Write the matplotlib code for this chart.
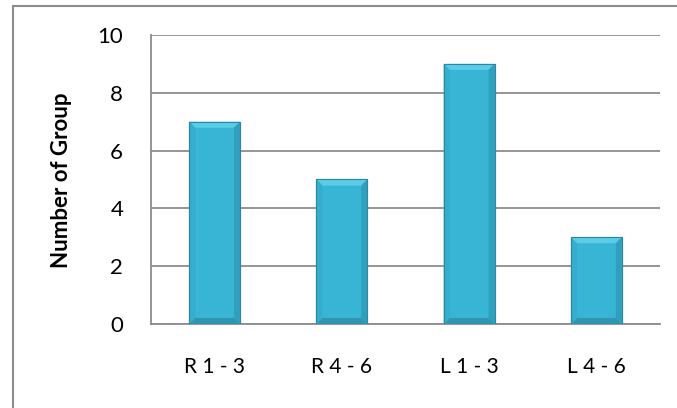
import numpy as np
import matplotlib.pyplot as plt
from matplotlib.patches import Rectangle, Polygon

# DATA
categories = ["R 1 - 3", "R 4 - 6", "L 1 - 3", "L 4 - 6"]
groups = [7, 5, 9, 3]
y_ticks = [0, 2, 4, 6, 8, 10]

plt.rcParams["font.family"] = ["Lato", "DejaVu Sans"]

W, H = 677, 408
fig = plt.figure(figsize=(W / 100, H / 100), dpi=100)
ax = fig.add_axes([151 / W, 1 - 324 / H, 509 / W, 289 / H])

x = np.arange(len(categories))
bw = 0.4
bars = ax.bar(x, groups, width=bw, color="#38b4d4", edgecolor="#2b8fab",
              linewidth=0.8, zorder=3)

# bevelled look on each bar
ax.set_xlim(-0.5, len(categories) - 0.5)
ax.set_ylim(0, 10)
px_x = (len(categories)) / 509
px_y = 10 / 289
bx, by = 6 * px_x, 6 * px_y
for b in bars:
    x0, y0 = b.get_x(), b.get_y()
    x1, y1 = x0 + b.get_width(), y0 + b.get_height()
    top = Polygon([(x0, y1), (x1, y1), (x1 - bx, y1 - by), (x0 + bx, y1 - by)],
                  closed=True, facecolor="#5ccbe8", edgecolor="none", zorder=4)
    bot = Polygon([(x0, y0), (x1, y0), (x1 - bx, y0 + by), (x0 + bx, y0 + by)],
                  closed=True, facecolor="#2f96b1", edgecolor="none", zorder=4)
    left = Polygon([(x0, y0), (x0, y1), (x0 + bx, y1 - by), (x0 + bx, y0 + by)],
                   closed=True, facecolor="#35aecd", edgecolor="none", zorder=4)
    right = Polygon([(x1, y0), (x1, y1), (x1 - bx, y1 - by), (x1 - bx, y0 + by)],
                    closed=True, facecolor="#309fbd", edgecolor="none", zorder=4)
    for p in (top, bot, left, right):
        ax.add_patch(p)
    ax.add_patch(Rectangle((x0, y0), x1 - x0, y1 - y0, fill=False,
                           edgecolor="#2a88a3", linewidth=0.8, zorder=5))

ax.set_yticks(y_ticks)
ax.set_xticks(x)
ax.set_xticklabels(categories, fontsize=15)
ax.tick_params(axis="y", labelsize=16, length=0, pad=20)
ax.tick_params(axis="x", length=0, pad=24)
ax.yaxis.grid(True, color="#8c8c8c", linewidth=1.3, zorder=0)
ax.set_axisbelow(True)
for s in ["top", "right"]:
    ax.spines[s].set_visible(False)
for s in ["left", "bottom"]:
    ax.spines[s].set_color("#8c8c8c")
    ax.spines[s].set_linewidth(1.3)

fig.text(62 / W, 1 - 180 / H, "Number of Group", rotation=90, fontsize=16,
         fontweight="bold", ha="center", va="center")

# chart-area border
fig.add_artist(Rectangle((12.5 / W, -0.2), 1.0, 1 - 5.5 / H + 0.2,
                         transform=fig.transFigure, fill=False,
                         edgecolor="#8c8c8c", linewidth=1.5))

fig.savefig("out.png", dpi=100)
